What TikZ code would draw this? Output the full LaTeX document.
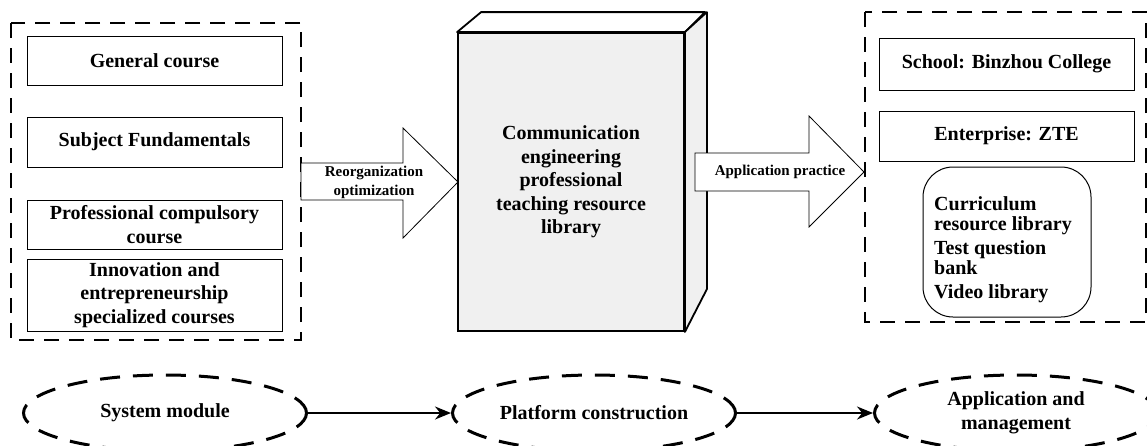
\documentclass[tikz,border=0pt]{standalone}
\usepackage{fontspec}
\setmainfont{Liberation Serif}
\usetikzlibrary{shapes.geometric,arrows.meta}
\definecolor{boxgray}{HTML}{F0F0F0}
\begin{document}
\begin{tikzpicture}[x=1pt,y=-1pt,
  every node/.style={font=\bfseries\fontsize{20}{23.5}\selectfont, align=center, inner sep=0pt},
  box/.style={draw, line width=1pt, minimum width=255pt},
  dbox/.style={draw, line width=2.5pt, dash pattern=on 15pt off 10pt},
  ell/.style={draw, ellipse, line width=3pt, dash pattern=on 20pt off 13pt, minimum width=283pt, minimum height=76pt},
  barrow/.style={draw, line width=0.8pt, fill=white},
  small/.style={font=\bfseries\fontsize{15}{19}\selectfont},
  conn/.style={-{Stealth[length=16pt,width=13pt]}, line width=2pt}
]
\useasboundingbox (0,0) rectangle (1147,445);
\clip (0,0) rectangle (1147,445);

% left group
\draw[dbox] (11,23) rectangle (301,340);
\node[box, minimum height=49pt] (gen) at (154.5,60.5) {General course};
\node[box, minimum height=50pt] (sub) at (154.5,142) {Subject Fundamentals};
\node[box, minimum height=49pt] (pro) at (154.5,224.5) {Professional compulsory\\course};
\node[box, minimum height=72pt] (inn) at (154.5,295) {Innovation and\\entrepreneurship\\specialized courses};

% block arrow 1
\draw[barrow] (301,163) -- (403,163) -- (403,128) -- (458,182) -- (403,238) -- (403,200) -- (301,200) -- cycle;
\node[small] (reo) at (374,182) {Reorganization\\optimization};

% central 3D box
\node[draw, line width=1.8pt, fill=boxgray, minimum width=226pt, minimum height=298pt] (lib) at (571,182) {};
\draw[line width=1.8pt, fill=white, line join=round] (lib.north west) -- ++(24,-20) -- ++(224,0) -- (lib.north east) -- cycle;
\draw[line width=1.8pt, fill=boxgray, line join=round] (lib.north east) -- ++(22,-20) -- ++(0,277) -- (lib.south east) -- cycle;
\node at (lib.center) {Communication\\engineering\\professional\\teaching resource\\library};

% block arrow 2
\draw[barrow] (695,153) -- (809,153) -- (809,116) -- (864,172) -- (809,227) -- (809,191) -- (695,191) -- cycle;
\node[small] (app) at (780,172) {Application practice};

% right group
\draw[dbox] (865,12) rectangle (1146,322);
\node[box, minimum height=52pt] (sch) at (1006.5,64) {School: Binzhou College};
\node[box, minimum height=50pt] (ent) at (1006.5,136) {Enterprise: ZTE};
\node[draw, line width=1pt, rounded corners=30pt, minimum width=168pt, minimum height=150pt] (res) at (1007,242) {};
\node[align=left, anchor=west, font=\bfseries\fontsize{20}{20}\selectfont] (restxt) at (934,250)
  {Curriculum\\resource library\\[4pt]Test question\\bank\\[4pt]Video library};

% bottom process
\node[ell] (e1) at (165,413) {System module};
\node[ell] (e2) at (594,413) {Platform construction};
\node[ell] (e3) at (1016,413) {Application and\\management};
\draw[conn] (e1.east) -- (e2.west);
\draw[conn] (e2.east) -- (e3.west);
\end{tikzpicture}
\end{document}
